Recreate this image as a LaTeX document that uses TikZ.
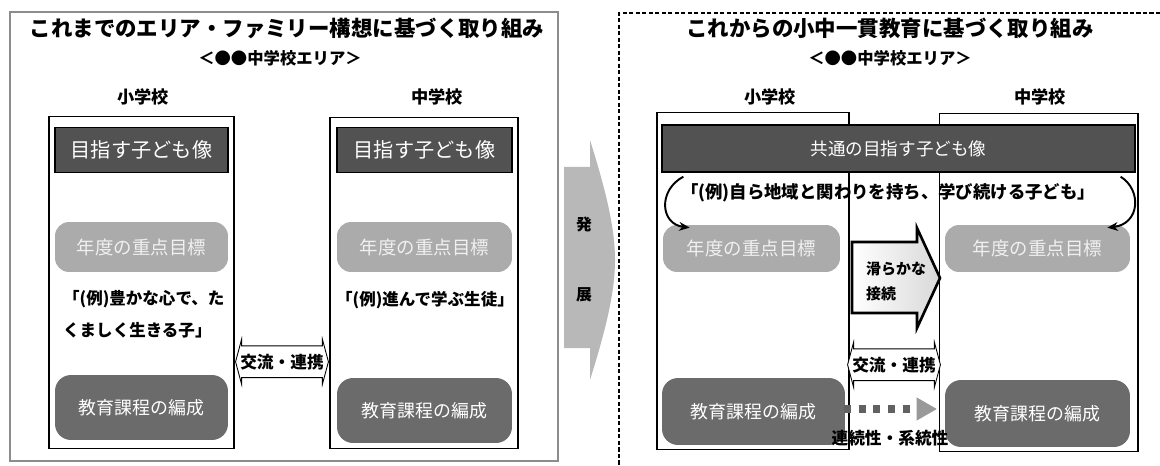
\documentclass[tikz,border=0pt]{standalone}
\usepackage{fontspec}
\setmainfont{Noto Sans CJK JP}
\usetikzlibrary{shapes.arrows,arrows.meta,calc}

\begin{document}
\begin{tikzpicture}[x=0.02cm,y=-0.02cm,
	school/.style={draw,line width=0.6pt,inner sep=0pt},
	aim/.style={draw,line width=0.8pt,fill=black!68,text=white,inner sep=0pt,minimum height=0.9cm,font=\fontsize{11.5}{13}\selectfont},
	goal/.style={fill=black!33,text=black!6,rounded corners=0.28cm,inner sep=0pt,font=\fontsize{10.5}{12}\selectfont},
	plan/.style={fill=black!58,text=white,rounded corners=0.32cm,inner sep=0pt,font=\fontsize{10.2}{12}\selectfont},
	xchg/.style={double arrow,draw,line width=0.5pt,fill=white,double arrow tip angle=150,double arrow head extend=0.13cm,inner xsep=0pt,inner ysep=0.15cm,minimum height=1.74cm,font=\bfseries\fontsize{9.5}{11}\selectfont},
	ttl/.style={font=\bfseries\fontsize{12.2}{14}\selectfont},
	area/.style={font=\bfseries\fontsize{9.3}{11}\selectfont},
	lbl/.style={font=\bfseries\fontsize{9.8}{11}\selectfont},
	ex/.style={font=\bfseries\fontsize{9.4}{18.2}\selectfont,align=left},
	]
	\useasboundingbox (0,0) rectangle (1160,466);
	\draw[black!45,line width=1pt] (10,12) rectangle (558,461);
	\draw[line width=0.9pt,dash pattern=on 2.5pt off 1.2pt] (1160,13) -- (619,13) -- (619,466);

	\node[ttl] (title1) at (287,28) {これまでのエリア・ファミリー構想に基づく取り組み};
	\node[area] (area1) at (280,58) {＜●●中学校エリア＞};
	\node[lbl] (lblEle1) at (143,97) {小学校};
	\node[lbl] (lblJhs1) at (437,97) {中学校};
	\node[school,minimum width=3.7cm,minimum height=6.66cm] (eleA) at (141.5,282.5) {};
	\node[school,minimum width=3.76cm,minimum height=6.64cm] (jhsA) at (424,283) {};
	\node[aim,minimum width=3.46cm] (img1) at (141.5,150) {目指す子ども像};
	\node[aim,minimum width=3.5cm] (img2) at (424.5,150) {目指す子ども像};
	\node[goal,minimum width=3.46cm,minimum height=1cm] (goal1) at (141.5,247) {年度の重点目標};
	\node[goal,minimum width=3.5cm,minimum height=1cm] (goal2) at (424.5,247) {年度の重点目標};
	\node[ex,anchor=west] (ex1) at (57,314) {「(例)豊かな心で、た\\くましく生きる子」};
	\node[ex] (ex2) at (425,300) {「(例)進んで学ぶ生徒」};
	\node[plan,minimum width=3.46cm,minimum height=1.3cm] (cur1) at (141.5,407.5) {教育課程の編成};
	\node[plan,minimum width=3.5cm,minimum height=1.3cm] (cur2) at (424.5,410.5) {教育課程の編成};
	\node[xchg] (link1) at ($(eleA.east)!0.5!(jhsA.west)+(0,79)$) {交流・連携};

	\fill[black!28] (564,167) -- (590,167) -- (590,140) .. controls (604,185) and (615,225) .. (615,260) .. controls (615,295) and (604,335) .. (590,380) -- (590,348) -- (564,348) -- cycle;
	\node[font=\bfseries\fontsize{9}{10}\selectfont] (hatsu) at (584,225) {発};
	\node[font=\bfseries\fontsize{9}{10}\selectfont] (ten) at (584,295) {展};

	\node[ttl] (title2) at (890,28) {これからの小中一貫教育に基づく取り組み};
	\node[area] (area2) at (890,58) {＜●●中学校エリア＞};
	\node[lbl] (lblEle2) at (770,97) {小学校};
	\node[lbl] (lblJhs2) at (1040,97) {中学校};
	\node[school,minimum width=3.84cm,minimum height=6.76cm] (eleB) at (753,281) {};
	\node[school,minimum width=3.98cm,minimum height=6.78cm] (jhsB) at (1038.5,282.5) {};
	\node[aim,minimum width=9.46cm,minimum height=0.94cm,font=\fontsize{10}{12}\selectfont] (banner) at (898.5,148.5) {共通の目指す子ども像};
	\node[font=\bfseries\fontsize{9.9}{12}\selectfont] (ex3) at (888,193) {「(例)自ら地域と関わりを持ち、学び続ける子ども」};
	\node[goal,minimum width=3.54cm,minimum height=0.94cm] (goal3) at (751.5,248.5) {年度の重点目標};
	\node[goal,minimum width=3.7cm,minimum height=0.94cm] (goal4) at (1037.5,248.5) {年度の重点目標};
	\draw[line width=1.1pt,-{Stealth[length=6pt,width=5pt]}] ($(banner.south west)+(22,4)$) .. controls (658,190) and (660,224) .. ($(goal3.north west)+(27,3)$);
	\draw[line width=1.1pt,-{Stealth[length=6pt,width=5pt]}] ($(banner.south east)+(-15,4)$) .. controls (1142,190) and (1140,224) .. ($(goal4.north east)+(-23,3)$);
	\draw[line width=1.5pt,left color=white,right color=black!15] (852,242) -- (917,242) -- (917,228) -- (940,278) -- (917,328) -- (917,313) -- (852,313) -- cycle;
	\node[font=\bfseries\fontsize{8.5}{14.2}\selectfont,align=left,anchor=west] (smooth) at (860,281) {滑らかな\\接続};
	\node[xchg] (link2) at ($(eleB.east)!0.5!(jhsB.west)+(0,83)$) {交流・連携};
	\node[plan,minimum width=3.66cm,minimum height=1.34cm] (cur3) at (753.5,411.5) {教育課程の編成};
	\node[plan,minimum width=3.7cm,minimum height=1.34cm] (cur4) at (1037.5,413.5) {教育課程の編成};
	\draw[black!62,line width=4pt,dash pattern=on 4pt off 4.5pt,-{Triangle[length=0.4cm,width=0.46cm,fill=black!40,color=black!40,line width=0.4pt]}] ([xshift=-1pt]cur3.east |- 0,409) -- ([xshift=-0.16cm]cur4.west |- 0,409);
	\node[font=\bfseries\fontsize{9.5}{11}\selectfont] (cont) at (890,438) {連続性・系統性};
\end{tikzpicture}
\end{document}
